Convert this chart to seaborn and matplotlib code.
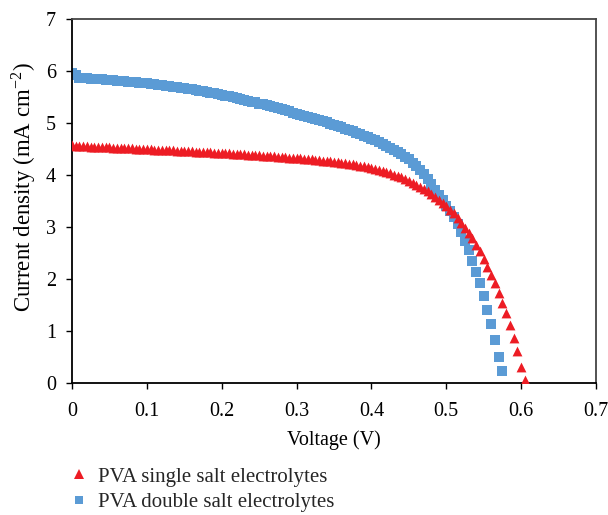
import numpy as np
import pandas as pd
import matplotlib
matplotlib.use("Agg")
import matplotlib.pyplot as plt
import seaborn as sns
from matplotlib.lines import Line2D

# ---------------- data ----------------
voltage_step = 0.005  # V, sweep step of the J-V measurement

current_single = [
    4.57, 4.565, 4.56, 4.555, 4.55, 4.545, 4.545, 4.54, 4.535, 4.53,
    4.53, 4.525, 4.52, 4.52, 4.515, 4.51, 4.51, 4.505, 4.505, 4.50,
    4.50, 4.495, 4.49, 4.49, 4.485, 4.48, 4.48, 4.475, 4.47, 4.47,
    4.465, 4.46, 4.455, 4.45, 4.45, 4.445, 4.44, 4.435, 4.43, 4.43,
    4.425, 4.42, 4.415, 4.41, 4.405, 4.40, 4.395, 4.39, 4.39, 4.385,
    4.38, 4.375, 4.37, 4.365, 4.36, 4.355, 4.345, 4.34, 4.335, 4.33,
    4.325, 4.32, 4.31, 4.305, 4.30, 4.29, 4.285, 4.275, 4.27, 4.26,
    4.255, 4.245, 4.235, 4.225, 4.215, 4.205, 4.195, 4.18, 4.17, 4.155,
    4.14, 4.115, 4.09, 4.07, 4.05, 4.03, 4.005, 3.98, 3.955, 3.925,
    3.89, 3.855, 3.815, 3.775, 3.73, 3.685, 3.635, 3.58, 3.525, 3.465,
    3.40, 3.33, 3.26, 3.17, 3.08, 2.99, 2.89, 2.78, 2.66, 2.53,
    2.39, 2.24, 2.08, 1.92, 1.74, 1.54, 1.34, 1.12, 0.87, 0.62,
    0.30, 0.06,
]

current_double = [
    5.96, 5.93, 5.875, 5.865, 5.86, 5.855, 5.85, 5.845, 5.84, 5.835,
    5.83, 5.825, 5.815, 5.81, 5.805, 5.795, 5.79, 5.78, 5.775, 5.765,
    5.76, 5.75, 5.745, 5.735, 5.725, 5.715, 5.705, 5.695, 5.685, 5.675,
    5.665, 5.655, 5.645, 5.63, 5.62, 5.61, 5.595, 5.585, 5.57, 5.555,
    5.54, 5.525, 5.51, 5.495, 5.48, 5.46, 5.445, 5.43, 5.41, 5.395,
    5.375, 5.36, 5.34, 5.32, 5.30, 5.285, 5.265, 5.245, 5.225, 5.20,
    5.18, 5.16, 5.14, 5.12, 5.10, 5.08, 5.055, 5.035, 5.01, 4.99,
    4.965, 4.94, 4.915, 4.89, 4.865, 4.84, 4.81, 4.785, 4.755, 4.73,
    4.70, 4.67, 4.64, 4.60, 4.565, 4.525, 4.485, 4.445, 4.40, 4.355,
    4.31, 4.24, 4.17, 4.09, 4.01, 3.92, 3.82, 3.72, 3.62, 3.51,
    3.40, 3.30, 3.20, 3.06, 2.91, 2.74, 2.56, 2.35, 2.14, 1.92,
    1.67, 1.40, 1.13, 0.83, 0.50, 0.23,
]

series_labels = ["PVA single salt electrolytes", "PVA double salt electrolytes"]
x_ticks = [0, 0.1, 0.2, 0.3, 0.4, 0.5, 0.6, 0.7]
x_tick_labels = ["0", "0.1", "0.2", "0.3", "0.4", "0.5", "0.6", "0.7"]
y_ticks = [0, 1, 2, 3, 4, 5, 6, 7]

voltage_single = [round(i * voltage_step, 3) for i in range(len(current_single))]
voltage_double = [round(i * voltage_step, 3) for i in range(len(current_double))]

df = pd.concat([
    pd.DataFrame({"Voltage": voltage_single, "Current": current_single,
                  "Series": series_labels[0]}),
    pd.DataFrame({"Voltage": voltage_double, "Current": current_double,
                  "Series": series_labels[1]}),
], ignore_index=True)

# ---------------- style ----------------
sns.set_theme(style="ticks")
plt.rcParams["font.family"] = ["Liberation Serif", "DejaVu Serif"]
plt.rcParams["mathtext.fontset"] = "stix"

red = "#ED1C24"
blue = "#5B9BD5"

fig = plt.figure(figsize=(6.08, 5.15), dpi=100)
ax = fig.add_axes([72 / 608, 1 - 383 / 515, (596 - 72) / 608, (383 - 19) / 515])

sns.scatterplot(data=df[df["Series"] == series_labels[1]], x="Voltage", y="Current",
                marker="s", color=blue, s=44, linewidth=0, ax=ax, legend=False,
                zorder=2)
sns.scatterplot(data=df[df["Series"] == series_labels[0]], x="Voltage", y="Current",
                marker="^", color=red, s=50, linewidth=0, ax=ax, legend=False,
                zorder=3)

ax.set_xlim(0, 0.7)
ax.set_ylim(0, 7)
ax.set_xticks(x_ticks)
ax.set_xticklabels(x_tick_labels)
ax.set_yticks(y_ticks)
ax.tick_params(axis="both", direction="out", length=4.5, width=1.0,
               colors="black", labelsize=14.5)
ax.tick_params(axis="x", pad=9)
ax.tick_params(axis="y", pad=7)

for side in ["left", "bottom"]:
    ax.spines[side].set_color("black")
    ax.spines[side].set_linewidth(1.3)
for side in ["top", "right"]:
    ax.spines[side].set_visible(True)
    ax.spines[side].set_color("#444444")
    ax.spines[side].set_linewidth(1.3)

ax.set_xlabel("Voltage (V)", fontsize=14.5, labelpad=7, color="black")
ax.set_ylabel(r"Current density (mA cm$^{\mathregular{-2}}$)", fontsize=16.5,
              color="black")
ax.yaxis.set_label_coords((38 - 72) / 524, (383 - 187) / 364)

handles = [
    Line2D([], [], linestyle="none", marker="^", color=red, markersize=7,
           markeredgewidth=0),
    Line2D([], [], linestyle="none", marker="s", color=blue, markersize=6,
           markeredgewidth=0),
]
fig.legend(handles, series_labels, loc="upper left",
           bbox_to_anchor=(69 / 608, 1 - 467 / 515), frameon=False,
           fontsize=15, handlelength=1.0, handletextpad=0.4,
           labelspacing=0.3, borderaxespad=0, borderpad=0)

fig.savefig("out.png", dpi=100)
